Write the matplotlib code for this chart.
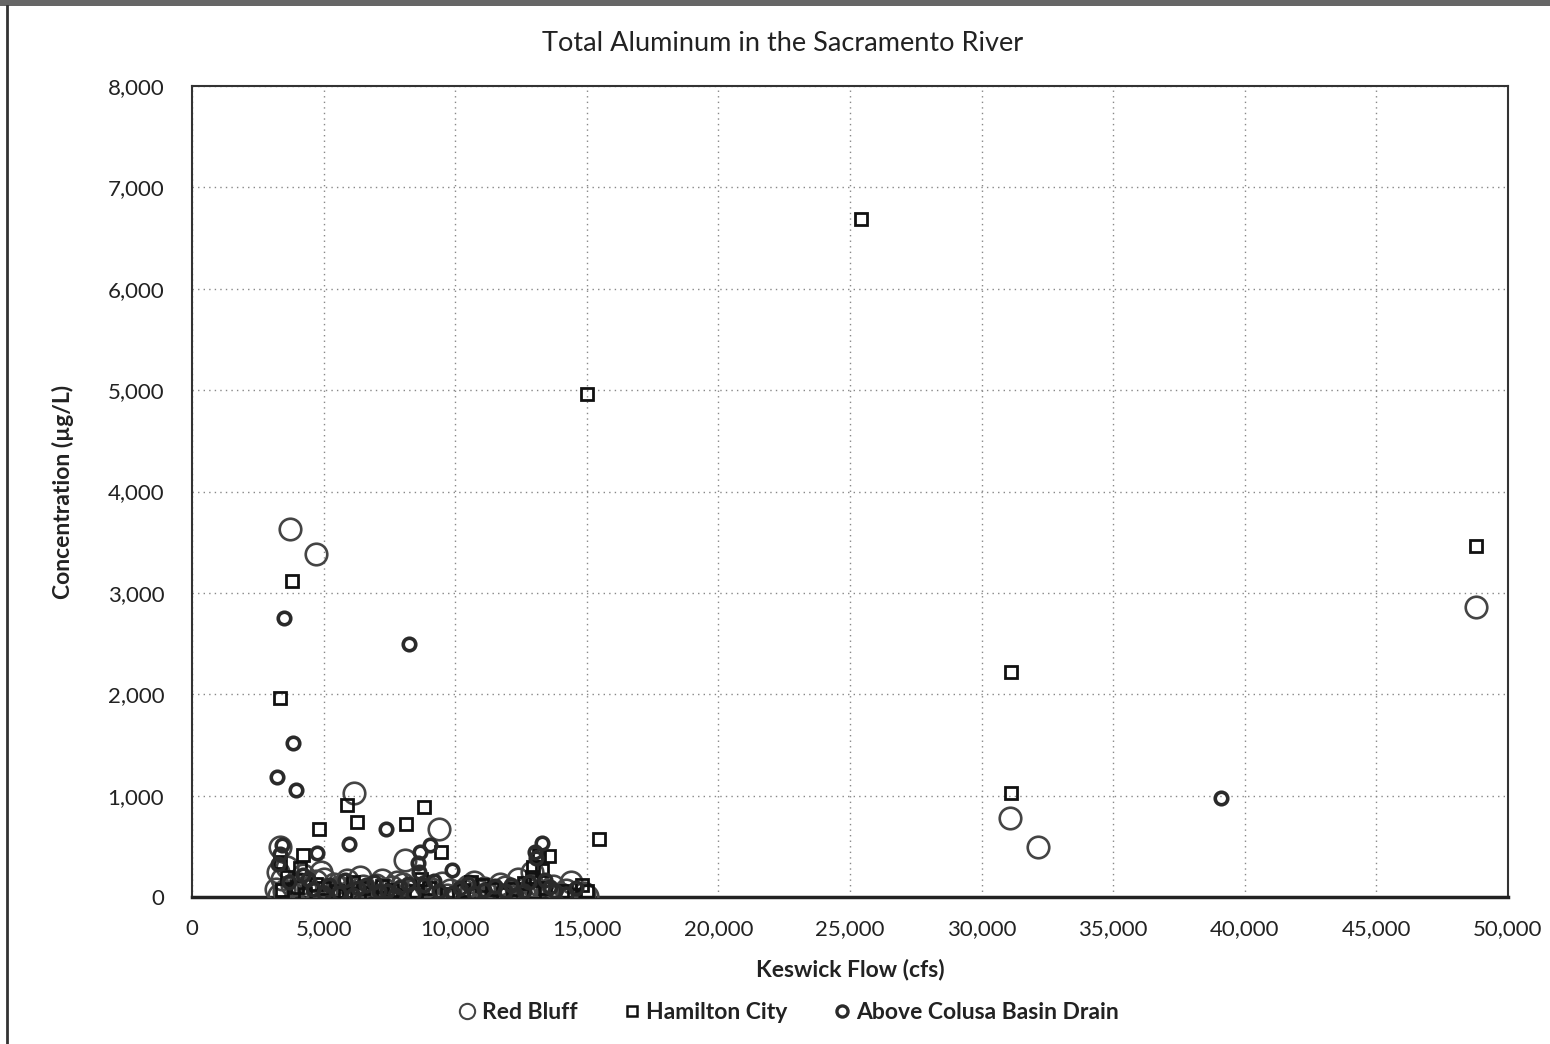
import matplotlib
matplotlib.use("Agg")
import matplotlib.pyplot as plt
from matplotlib.lines import Line2D
from matplotlib.patches import Rectangle
from matplotlib.ticker import FuncFormatter, MultipleLocator

plt.rcParams['font.family'] = ['Lato', 'DejaVu Sans']

# Red Bluff (flow cfs, concentration ug/L)
red_bluff_x = [3720, 4710, 6150, 9390, 8090, 31080, 32140, 48780, 3340,
               3200, 3300, 3400, 3600, 3800, 4000, 4200, 4400, 4700, 4900,
               5100, 5400, 5700, 5900, 6100, 6400, 6700, 7000, 7300, 7500,
               7800, 8300, 8600, 8900, 9200, 9500, 9800, 10100, 10500, 10900,
               11300, 11700, 12100, 12400, 12700, 12900, 13200, 13500, 14000,
               14400, 14900, 15000,
               3250, 3500, 4100, 4600, 5000, 5300, 5600, 6200, 6500, 6900,
               7200, 7600, 8000, 8200, 9100, 9700, 10300, 10700, 11100, 11500,
               11900, 12300, 12600, 13000, 13700, 14200]
red_bluff_y = [3630, 3380, 1025, 670, 365, 780, 490, 2860, 490,
               80, 20, 180, 300, 120, 40, 220, 90, 160, 250,
               60, 130, 30, 170, 90, 200, 50, 120, 80, 30,
               150, 60, 20, 110, 40, 140, 70, 30, 110, 60,
               20, 130, 50, 180, 90, 250, 120, 60, 30,
               150, 40, 10,
               250, 60, 130, 30, 180, 10, 100, 40, 110, 20,
               170, 100, 130, 20, 80, 20, 70, 150, 90, 50,
               100, 10, 40, 100, 110, 70]

# Hamilton City
hamilton_x = [25420, 15010, 3800, 3340, 31120, 31120, 48780, 15460, 5890,
              6270, 4830, 8810, 8130, 9460, 13560, 13200, 4220, 4100, 3350,
              12950, 13300, 14800, 3400, 4000, 4300, 5000, 5500, 6100, 6800,
              7200, 8500, 8700, 9000, 10300, 11000, 11800, 12200, 12600,
              13000, 14500, 15000,
              3600, 4700, 5800, 6500, 7600, 8000, 9700, 10600, 11400, 12900,
              13400, 14200]
hamilton_y = [6690, 4960, 3115, 1960, 2220, 1025, 3460, 572, 907,
              740, 670, 888, 720, 444, 404, 410, 414, 290, 350,
              300, 270, 120, 70, 100, 30, 90, 60, 150, 40,
              110, 60, 180, 90, 70, 120, 30, 80, 140,
              50, 20, 60,
              200, 130, 20, 90, 70, 20, 30, 150, 80, 200,
              90, 60]

# Above Colusa Basin Drain
colusa_x = [3500, 8240, 3840, 3230, 3950, 39100, 5960, 7370, 4750, 3400,
            9040, 8660, 8600, 8640, 9880, 13300, 13030, 13050, 3350, 3250,
            4200, 3700, 4600, 5200, 5600, 6300, 6900, 7400, 7900, 8400,
            8800, 9400, 10200, 10700, 11500, 11900, 12300, 12800, 13400,
            13800, 14200, 14600,
            4400, 5000, 5800, 6100, 6600, 7100, 7700, 8200, 9200, 9900,
            10500, 11100, 12100, 12600, 13600]
colusa_y = [2750, 2495, 1520, 1185, 1055, 975, 520, 670, 435, 510,
            510, 445, 335, 250, 265, 530, 445, 380, 420, 330,
            220, 150, 80, 120, 40, 90, 150, 60, 100, 30,
            120, 60, 90, 40, 110, 60, 20, 150, 170,
            60, 30, 90,
            180, 40, 170, 20, 120, 60, 20, 130, 160, 40,
            130, 70, 120, 60, 100]

fig = plt.figure(figsize=(15.5, 10.44), dpi=100)
ax = fig.add_axes([0.1239, 0.1408, 0.849, 0.7768])

ax.plot(red_bluff_x, red_bluff_y, linestyle="none", marker="o", markersize=15.5,
        markerfacecolor="none", markeredgecolor="#444444", markeredgewidth=1.9,
        zorder=3)
ax.plot(hamilton_x, hamilton_y, linestyle="none", marker="s", markersize=8.5,
        markerfacecolor="none", markeredgecolor="#111111", markeredgewidth=2,
        zorder=4)
ax.plot(colusa_x, colusa_y, linestyle="none", marker="o", markersize=9,
        markerfacecolor="none", markeredgecolor="#2a2a2a", markeredgewidth=2.6,
        zorder=5)

ax.set_xlim(0, 50000)
ax.set_ylim(0, 8000)
ax.xaxis.set_major_locator(MultipleLocator(5000))
ax.yaxis.set_major_locator(MultipleLocator(1000))
fmt = FuncFormatter(lambda v, p: f"{int(v):,}")
ax.xaxis.set_major_formatter(fmt)
ax.yaxis.set_major_formatter(fmt)
ax.tick_params(axis="both", length=0, labelsize=16, colors="#222222")
ax.tick_params(axis="x", pad=16)
ax.tick_params(axis="y", pad=20)
ax.grid(True, linestyle=(0, (1, 3)), color="#888888", linewidth=1)
ax.set_axisbelow(True)

for side in ["top", "right", "left"]:
    ax.spines[side].set_color("#333333")
    ax.spines[side].set_linewidth(1.5)
ax.spines["bottom"].set_color("#222222")
ax.spines["bottom"].set_linewidth(2.5)

fig.text(0.505, 0.958, "Total Aluminum in the Sacramento River", fontsize=19.5,
         color="#222222", ha="center", va="center")
ax.set_xlabel("Keswick Flow (cfs)", fontsize=16.5, fontweight="bold",
              color="#222222", labelpad=14)
ax.set_ylabel("Concentration (µg/L)", fontsize=16.5, fontweight="bold",
              color="#222222", labelpad=24)

handles = [
    Line2D([], [], linestyle="none", marker="o", markersize=11,
           markerfacecolor="none", markeredgecolor="#444444", markeredgewidth=1.5),
    Line2D([], [], linestyle="none", marker="s", markersize=7.5,
           markerfacecolor="none", markeredgecolor="#111111", markeredgewidth=1.8),
    Line2D([], [], linestyle="none", marker="o", markersize=8,
           markerfacecolor="none", markeredgecolor="#2a2a2a", markeredgewidth=2.4),
]
labels = ["Red Bluff", "Hamilton City", "Above Colusa Basin Drain"]
leg = fig.legend(handles, labels, loc="center", bbox_to_anchor=(0.507, 0.030),
                 ncol=3, frameon=False, handletextpad=0.0, columnspacing=1.7,
                 handlelength=1.3, prop={"size": 16.5, "weight": "bold"})
for t in leg.get_texts():
    t.set_color("#222222")

# outer frame fragments of the original export
fig.patches.append(Rectangle((0, 0.9943), 1, 0.0057, transform=fig.transFigure,
                             facecolor="#666666", edgecolor="none", hatch="....",
                             zorder=0))
fig.add_artist(Line2D([0.0048, 0.0048], [0, 0.994], transform=fig.transFigure,
                      color="#333333", linewidth=2))

fig.savefig("out.png", dpi=100, facecolor="white")
